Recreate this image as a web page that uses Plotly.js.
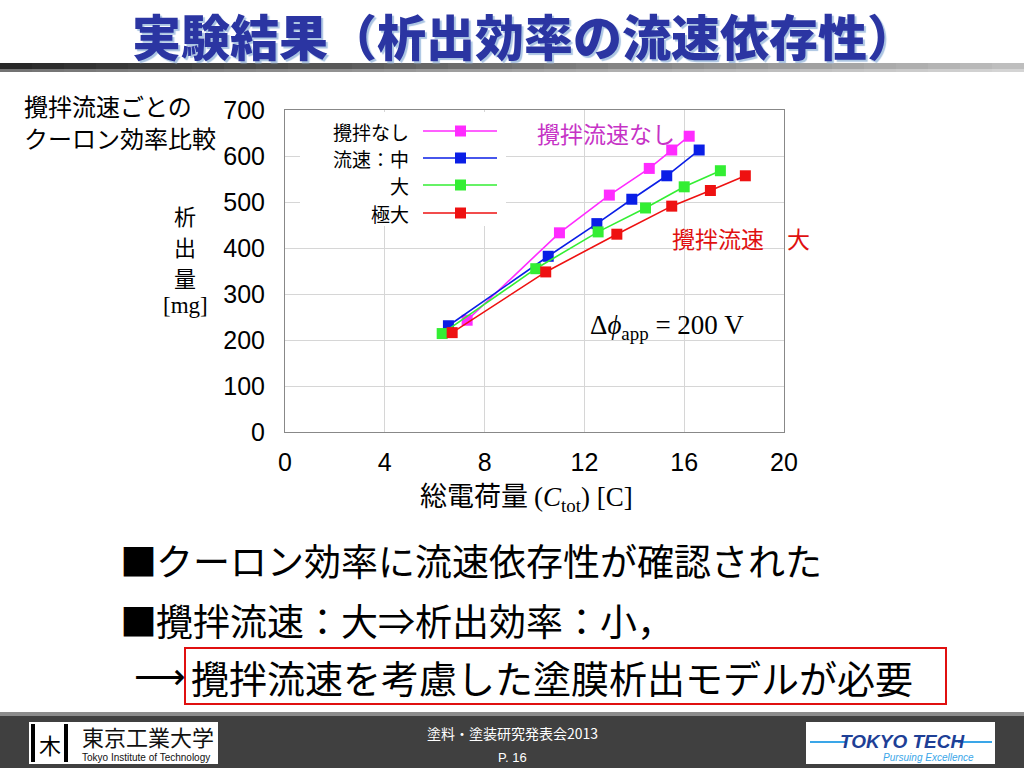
<!DOCTYPE html>
<html><head><meta charset="utf-8">
<script src="https://cdn.plot.ly/plotly-3.0.1.min.js"></script>
<style>html,body{margin:0;padding:0;background:#fff;}#chart{width:1024px;height:768px;}</style>
</head><body><div id="chart"></div>
<script>
// ---- data ----
const seriesNames = ['攪拌なし', '流速：中', '大', '極大'];
const chargeNone  = [7.3, 11.0, 13.0, 14.6, 15.5, 16.2];
const massNone    = [243, 433, 515, 573, 613, 643];
const chargeMid   = [6.55, 10.55, 12.5, 13.9, 15.3, 16.6];
const massMid     = [231, 382, 453, 506, 557, 613];
const chargeLarge = [6.3, 10.05, 12.55, 14.45, 16.0, 17.45];
const massLarge   = [214, 355, 435, 487, 533, 568];
const chargeMax   = [6.7, 10.45, 13.3, 15.5, 17.05, 18.45];
const massMax     = [216, 348, 430, 491, 525, 557];
const xTickVals = [0, 4, 8, 12, 16, 20];
const yTickVals = [0, 100, 200, 300, 400, 500, 600, 700];
const seriesColors = ['#ff2bff', '#0a1ee6', '#33ee33', '#ee1111'];

// ---- pixel helpers for slide decoration ----
const L = 285, R = 784, T = 110, B = 432;
const X = p => (p - L) / (R - L);
const Y = p => (B - p) / (B - T);
const JP = '"Noto Sans CJK JP", "Noto Sans", sans-serif';
const NUM = '"Liberation Sans", Arial, sans-serif';
const SERIF = '"Liberation Serif", "DejaVu Serif", serif';

const xs = [chargeNone, chargeMid, chargeLarge, chargeMax];
const ys = [massNone, massMid, massLarge, massMax];
const traces = xs.map((x, i) => ({
  x: x, y: ys[i], type: 'scatter', mode: 'lines+markers', name: seriesNames[i],
  line: {color: seriesColors[i], width: 1.6},
  marker: {symbol: 'square', size: 11, color: seriesColors[i]},
  showlegend: false, cliponaxis: false
}));

const shapes = [];
const annotations = [];
function txt(px, py, text, font, xanchor) {
  annotations.push({xref: 'paper', yref: 'paper', x: X(px), y: Y(py), xanchor: xanchor || 'center',
    yanchor: 'middle', text: text, showarrow: false, font: font});
}
function rect(x0, y0, x1, y1, fill, line) {
  shapes.push({type: 'rect', xref: 'paper', yref: 'paper', layer: 'above',
    x0: X(x0), x1: X(x1), y0: Y(y1), y1: Y(y0), fillcolor: fill, line: line || {width: 0}});
}
function hline(x0, x1, py, color, w) {
  shapes.push({type: 'line', xref: 'paper', yref: 'paper', layer: 'above',
    x0: X(x0), x1: X(x1), y0: Y(py), y1: Y(py), line: {color: color, width: w}});
}

// title underline bar (gradient dark -> light)
const nSeg = 32;
for (let i = 0; i < nSeg; i++) {
  const t = i / (nSeg - 1);
  const g = Math.round(40 + t * 150);
  rect(i * 1024 / nSeg, 63, (i + 1) * 1024 / nSeg + 1, 72, `rgb(${g},${g},${g})`);
}
rect(0, 69, 1024, 72, 'rgba(255,255,255,0.35)');

// legend box (white) and samples
rect(300, 112, 506, 226, '#ffffff');
const legY = [131, 158, 185, 213];
const legLabels = ['攪拌なし', '流速：中', '大', '極大'];
legY.forEach((py, i) => {
  hline(423, 497, py, seriesColors[i], 1.6);
  rect(455, py - 5.5, 466, py + 5.5, seriesColors[i]);
  txt(411, py, legLabels[i], {family: JP, size: 19, color: '#000'}, 'right');
});

// red box around conclusion
rect(185, 648, 946, 704, 'rgba(0,0,0,0)', {color: '#e01010', width: 2});

// footer
rect(0, 713, 1024, 768, '#404040');
rect(0, 712, 1024, 716, '#8c8c8c');
// left logo
rect(29, 722, 218, 764, '#ffffff');
rect(31, 724, 35, 762, '#000');
rect(64, 724, 68, 762, '#000');
txt(50, 744, '木', {family: JP, size: 22, color: '#000'});
txt(80, 736, '東京工業大学', {family: JP, size: 22, color: '#111'}, 'left');
txt(80, 758, 'Tokyo Institute of Technology', {family: NUM, size: 10, color: '#111'}, 'left');
// right logo
rect(806, 722, 995, 764, '#ffffff');
hline(810, 846, 742, '#3aa6e8', 2);
hline(958, 992, 742, '#3aa6e8', 2);
txt(902, 741, '<b><i>TOKYO TECH</i></b>', {family: NUM, size: 19, color: '#1e3f96'});
txt(928, 757, '<i>Pursuing Excellence</i>', {family: NUM, size: 10, color: '#3aa6e8'});
txt(512, 733, '塗料・塗装研究発表会2013', {family: JP, size: 14, color: '#ffffff'});
txt(512, 757, 'P. 16', {family: NUM, size: 13, color: '#ffffff'});

// chart texts
txt(22, 105, '攪拌流速ごとの', {family: JP, size: 24, color: '#000'}, 'left');
txt(22, 137, 'クーロン効率比較', {family: JP, size: 24, color: '#000'}, 'left');
txt(185, 215, '析', {family: JP, size: 22, color: '#000'});
txt(185, 246, '出', {family: JP, size: 22, color: '#000'});
txt(185, 277, '量', {family: JP, size: 22, color: '#000'});
txt(185, 305, '[mg]', {family: SERIF, size: 23, color: '#000'});
txt(526, 495, '総電荷量 <span style="font-family:\'Liberation Serif\'">(<i>C</i><sub>tot</sub>) [C]</span>',
  {family: JP, size: 27, color: '#000'});
txt(606, 133, '攪拌流速なし', {family: JP, size: 23, color: '#c633c6'});
txt(741, 238, '攪拌流速　大', {family: JP, size: 23, color: '#e01010'});
txt(667, 327, 'Δ<i>ϕ</i><sub>app</sub> = 200 V', {family: SERIF, size: 27, color: '#000'});

// bullets
const BF = {family: JP, size: 37, color: '#000'};
txt(118, 560, '■', BF, 'left');
txt(154, 560, 'クーロン効率に流速依存性が確認された', BF, 'left');
txt(118, 620, '■', BF, 'left');
txt(154, 620, '攪拌流速：大⇒析出効率：小，', BF, 'left');
txt(132, 676, '<span style="font-family:\'DejaVu Sans\'">⟶</span>', {family: JP, size: 36, color: '#000'}, 'left');
txt(189, 676, '攪拌流速を考慮した塗膜析出モデルが必要', {family: JP, size: 38, color: '#000'}, 'left');

const layout = {
  width: 1024, height: 768, autosize: false,
  margin: {l: L, r: 1024 - R, t: T, b: 768 - B, pad: 0},
  paper_bgcolor: '#ffffff', plot_bgcolor: '#ffffff',
  title: {text: '実験結果（析出効率の流速依存性）', xref: 'paper', x: X(524), xanchor: 'center',
    yref: 'container', y: 1 - 39 / 768, yanchor: 'middle',
    font: {family: JP, size: 49, color: '#2b35a2', weight: 900, shadow: '2px 2px 1px #aac4e2'}},
  xaxis: {range: [0, 20], tickvals: xTickVals, ticktext: xTickVals.map(String),
    showgrid: true, gridcolor: '#d6d6d6', gridwidth: 1, zeroline: false,
    showline: true, linecolor: '#888', linewidth: 1, mirror: true, ticks: '',
    ticklabelstandoff: 8, tickfont: {family: NUM, size: 25, color: '#000'}},
  yaxis: {range: [0, 700], tickvals: yTickVals, ticktext: yTickVals.map(String),
    showgrid: true, gridcolor: '#d6d6d6', gridwidth: 1, zeroline: false,
    showline: true, linecolor: '#888', linewidth: 1, mirror: true, ticks: '',
    ticklabelstandoff: 14, tickfont: {family: NUM, size: 25, color: '#000'}},
  showlegend: false,
  shapes: shapes,
  annotations: annotations
};
Plotly.newPlot('chart', traces, layout, {staticPlot: true, displayModeBar: false});
</script></body></html>
